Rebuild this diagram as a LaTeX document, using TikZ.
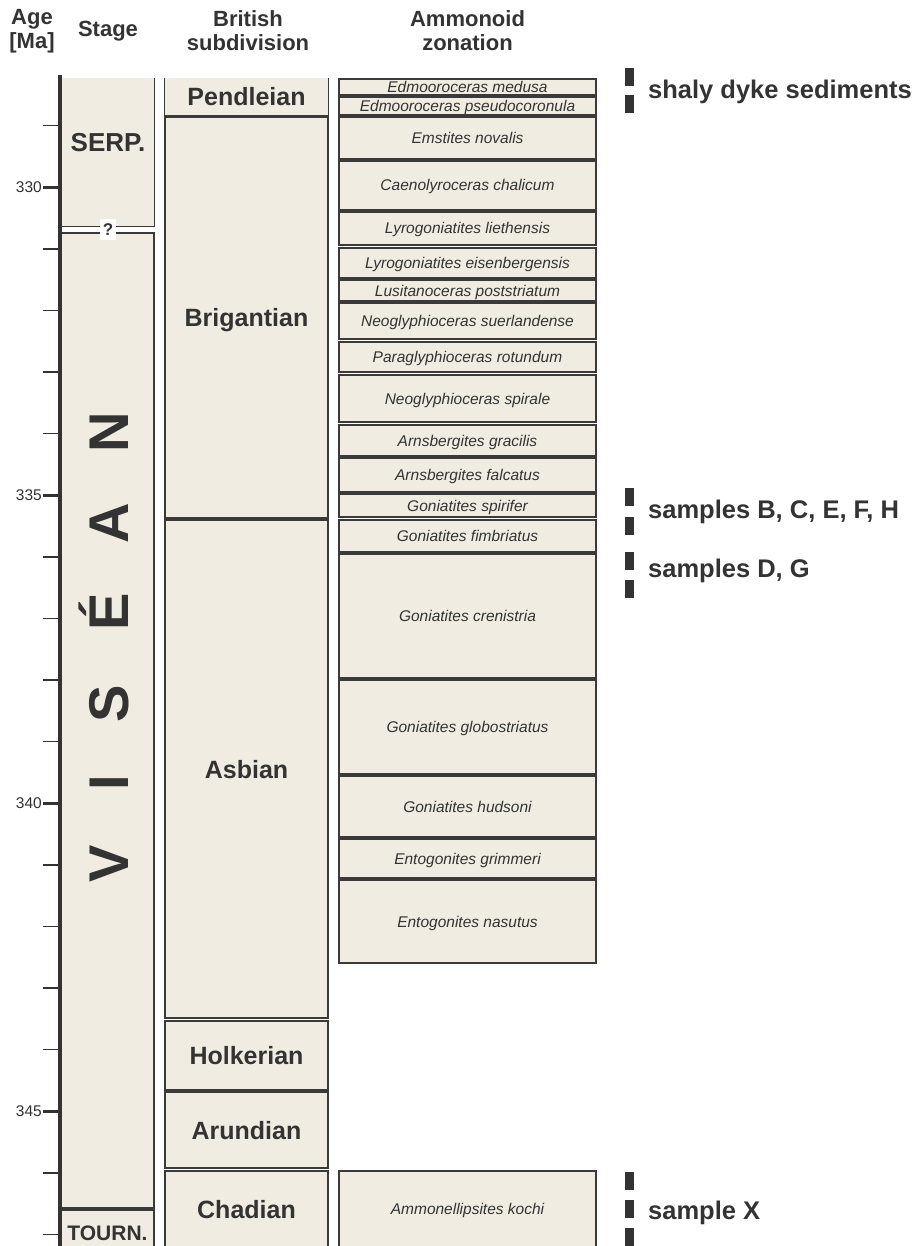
\documentclass[tikz,border=0pt]{standalone}
\usepackage{fontspec}
\setmainfont{Liberation Sans}
\definecolor{ink}{RGB}{51,51,51}
\definecolor{beige}{RGB}{240,236,225}
\definecolor{edge}{RGB}{58,58,58}
\tikzset{
  box/.style={draw=edge, fill=beige, line width=1.3pt, inner sep=0pt},
  openbox/.style={fill=beige, inner sep=0pt},
  edgeline/.style={draw=edge, line width=1.3pt},
  zonetxt/.style={font=\fontsize{15.5}{18}\selectfont\itshape, text=ink, text height=11pt, text depth=0pt},
  subtxt/.style={font=\fontsize{25}{30}\selectfont\bfseries, text=ink, text height=18pt, text depth=0pt},
  stagetxt/.style={font=\fontsize{26}{30}\selectfont\bfseries, text=ink, text height=18.6pt, text depth=0pt, inner sep=0pt},
  tourntxt/.style={font=\fontsize{21}{24}\selectfont\bfseries, text=ink, text height=15pt, text depth=0pt},
  hdr/.style={font=\fontsize{22}{26}\selectfont\bfseries, text=ink, anchor=base, inner sep=0pt},
  agelbl/.style={font=\fontsize{15.5}{18}\selectfont, text=ink, anchor=east, inner sep=0pt, text height=11pt, text depth=0pt},
  bigletter/.style={font=\fontsize{56}{60}\selectfont\bfseries, text=ink, rotate=90, anchor=base, inner sep=0pt},
  sampletxt/.style={font=\fontsize{25.5}{29}\selectfont\bfseries, text=ink, anchor=base west, inner sep=0pt},
  bar/.style={fill=ink, draw=none, inner sep=0pt, minimum width=9pt, minimum height=18pt},
  axisline/.style={draw=ink, line width=3.5pt},
  minortick/.style={draw=ink, line width=1.4pt},
  majortick/.style={draw=ink, line width=3pt},
}
\newcommand\ammz[4]{%
  \pgfmathsetmacro\zc{(#2+#3)/2}%
  \pgfmathsetmacro\zh{#3-#2}%
  \node[box, zonetxt, minimum width=257pt, minimum height=\zh pt] (#1) at (467.5,\zc) {#4};}
\newcommand\subz[4]{%
  \pgfmathsetmacro\zc{(#2+#3)/2}%
  \pgfmathsetmacro\zh{#3-#2}%
  \node[box, subtxt, minimum width=163pt, minimum height=\zh pt] (#1) at (246.5,\zc) {#4};}
\begin{document}
\begin{tikzpicture}[x=1pt,y=-1pt]
\useasboundingbox (0,0) rectangle (921,1246);
\fill[white] (0,0) rectangle (921,1246);

% headers
\node[hdr] (hAge) at (32,25) {Age};
\node[hdr] (hMa) at (32,49) {[Ma]};
\node[hdr] (hStage) at (108,37) {Stage};
\node[hdr] (hBrit) at (248,27) {British};
\node[hdr] (hSub) at (248,51) {subdivision};
\node[hdr] (hAmm) at (467.5,27) {Ammonoid};
\node[hdr] (hZon) at (467.5,51) {zonation};

% stage column
\node[openbox, minimum width=93pt, minimum height=148pt] (serp) at (107.5,152) {};
\draw[edgeline] (serp.north west) -- (serp.south west) -- (serp.south east) -- (serp.north east);
\node[stagetxt] (serpT) at (108,142) {SERP.};
\node[box, minimum width=93pt, minimum height=975pt] (vis) at (107.5,720.5) {};
\node[box, tourntxt, minimum width=93pt, minimum height=46pt] (tourn) at (107.5,1233) {TOURN.};
\node[fill=white, inner sep=0pt, minimum width=16pt, minimum height=21pt,
      font=\fontsize{17}{20}\selectfont\bfseries, text=ink] (q) at (108,229.5) {?};

% Visean letters
\node[bigletter] (lV) at (128,864) {V};
\node[bigletter] (lI) at (128,783) {I};
\node[bigletter] (lS) at (128,704) {S};
\node[bigletter] (lE) at (128,612) {É};
\node[bigletter] (lA) at (128,523) {A};
\node[bigletter] (lN) at (128,432) {N};

% axis
\coordinate (axtop) at (60,75);
\coordinate (axbot) at (60,1250);
\draw[axisline] (axtop) -- (axbot);
\foreach \k in {-1,1,2,3,4,6,7,8,9,11,12,13,14,16,17}{
  \pgfmathsetmacro\ty{187.3+61.6*\k}
  \draw[minortick] (43,\ty) -- (60,\ty);
}
\foreach \k/\a in {0/330,5/335,10/340,15/345}{
  \pgfmathsetmacro\ty{187.3+61.6*\k}
  \draw[majortick] (43,\ty) -- (60,\ty);
  \node[agelbl] (age\a) at (42,\ty) {\a};
}

% British subdivision
\node[openbox, subtxt, minimum width=163pt, minimum height=37pt] (pend) at (246.5,96.5) {Pendleian};
\draw[edgeline] (pend.north west) -- (pend.south west) -- (pend.south east) -- (pend.north east);
\subz{brig}{117}{518}{Brigantian}
\subz{asb}{520}{1018}{Asbian}
\subz{holk}{1021}{1090}{Holkerian}
\subz{arun}{1092}{1168}{Arundian}
\subz{chad}{1171}{1247}{Chadian}

% Ammonoid zonation
\ammz{z1}{79}{95}{Edmooroceras medusa}
\ammz{z2}{97}{115}{Edmooroceras pseudocoronula}
\ammz{z3}{117}{159}{Emstites novalis}
\ammz{z4}{161}{210}{Caenolyroceras chalicum}
\ammz{z5}{212}{245}{Lyrogoniatites liethensis}
\ammz{z6}{248}{278}{Lyrogoniatites eisenbergensis}
\ammz{z7}{280}{301}{Lusitanoceras poststriatum}
\ammz{z8}{303}{339}{Neoglyphioceras suerlandense}
\ammz{z9}{342}{372}{Paraglyphioceras rotundum}
\ammz{z10}{375}{422}{Neoglyphioceras spirale}
\ammz{z11}{425}{456}{Arnsbergites gracilis}
\ammz{z12}{458}{492}{Arnsbergites falcatus}
\ammz{z13}{494}{517}{Goniatites spirifer}
\ammz{z14}{520}{552}{Goniatites fimbriatus}
\ammz{z15}{554}{678}{Goniatites crenistria}
\ammz{z16}{680}{774}{Goniatites globostriatus}
\ammz{z17}{776}{837}{Goniatites hudsoni}
\ammz{z18}{839}{878}{Entogonites grimmeri}
\ammz{z19}{880}{963}{Entogonites nasutus}
\ammz{z20}{1171}{1247}{Ammonellipsites kochi}

% samples
\node[bar] (sh1) at (629.5,77) {};
\node[bar] (sh2) at (629.5,104) {};
\node[sampletxt] (shT) at (648,99) {shaly dyke sediments};
\node[bar] (b1) at (629.5,497) {};
\node[bar] (b2) at (629.5,526) {};
\node[sampletxt] (bT) at (648,518) {samples B, C, E, F, H};
\node[bar] (d1) at (629.5,561) {};
\node[bar] (d2) at (629.5,589) {};
\node[sampletxt] (dT) at (648,577) {samples D, G};
\node[bar] (x1) at (629.5,1181) {};
\node[bar] (x2) at (629.5,1209) {};
\node[bar] (x3) at (629.5,1237) {};
\node[sampletxt] (xT) at (648,1219) {sample X};
\end{tikzpicture}
\end{document}
